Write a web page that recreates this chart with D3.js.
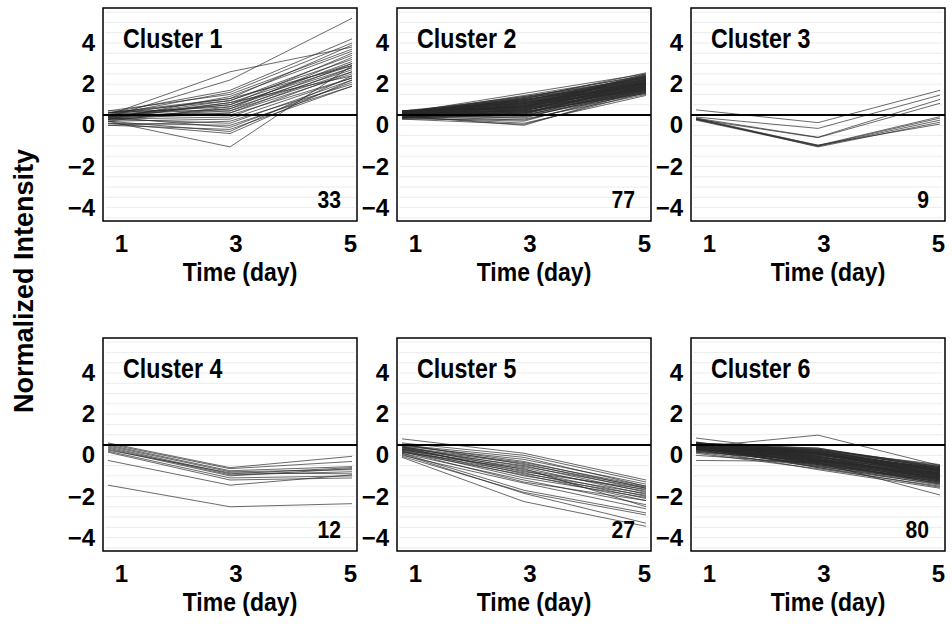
<!DOCTYPE html>
<html>
<head>
<meta charset="utf-8">
<script src="https://cdn.jsdelivr.net/npm/d3@7"></script>
<style>
  body { margin: 0; background: #fff; }
  text { font-family: 'Liberation Sans', Arial, sans-serif; font-weight: bold; fill: #000; }
</style>
</head>
<body>
<div id="chart"></div>
<script>
// time points (day)
var days = [1, 3, 5];
var yTicks = [-4, -2, 0, 2, 4];
var clusterNames = ['Cluster 1', 'Cluster 2', 'Cluster 3', 'Cluster 4', 'Cluster 5', 'Cluster 6'];
var clusterCounts = [33, 77, 9, 12, 27, 80];
var refLevel = 0.5;

// normalized intensity per gene: [day1, day3, day5]
var cluster1 = [
  [0.4, 2.2, 5.2], [0.5, 2.6, 3.8], [0.6, 1.7, 4.2], [0.5, 1.6, 4.0],
  [0.3, 1.4, 3.6], [0.5, 1.3, 3.9], [0.4, 1.2, 3.4], [0.6, 1.2, 3.2], [0.3, 1.1, 3.0],
  [0.5, 1.0, 3.5], [0.4, 1.0, 2.9], [0.2, 0.9, 3.1], [0.6, 0.9, 2.8], [0.5, 0.8, 2.7],
  [0.3, 0.8, 3.3], [0.4, 0.7, 2.6], [0.7, 0.7, 3.0], [0.5, 0.6, 2.5], [0.3, 0.6, 2.8],
  [0.4, 1.1, 2.4], [0.6, 1.3, 2.9],
  [0.2, 0.3, 2.3], [0.0, 0.2, 2.0], [0.3, 0.1, 2.2], [0.1, 0.0, 1.9], [0.4, -0.1, 2.1],
  [0.0, -0.2, 1.9], [0.2, -0.3, 2.4], [0.3, 0.4, 2.6], [0.1, -0.4, 2.2],
  [0.2, -1.05, 2.9], [0.7, 1.5, 3.7], [0.4, 0.5, 2.3]
];
var cluster2 = [
  [0.60, 1.55, 2.50], [0.55, 1.45, 2.40], [0.65, 1.40, 2.30], [0.50, 1.35, 2.45], [0.70, 1.30, 2.20],
  [0.45, 1.30, 2.35], [0.55, 1.25, 2.15], [0.60, 1.20, 2.40], [0.40, 1.20, 2.10], [0.65, 1.15, 2.25],
  [0.50, 1.15, 2.05], [0.55, 1.10, 2.30], [0.45, 1.10, 2.00], [0.70, 1.05, 2.20], [0.35, 1.05, 1.95],
  [0.60, 1.00, 2.10], [0.50, 1.00, 2.35], [0.40, 0.95, 1.90], [0.65, 0.95, 2.05], [0.55, 0.90, 2.20],
  [0.45, 0.90, 1.85], [0.60, 0.85, 2.00], [0.50, 0.85, 2.15], [0.35, 0.80, 1.80], [0.70, 0.80, 1.95],
  [0.55, 0.75, 2.10], [0.45, 0.75, 1.75], [0.60, 0.70, 1.90], [0.50, 0.70, 2.05], [0.40, 0.65, 1.70],
  [0.65, 0.65, 1.85], [0.55, 0.60, 2.00], [0.45, 0.60, 1.65], [0.60, 0.55, 1.80], [0.50, 0.55, 1.95],
  [0.35, 0.50, 1.60], [0.55, 0.50, 1.75], [0.45, 0.45, 1.90], [0.60, 0.45, 1.55], [0.40, 0.40, 1.70],
  [0.50, 0.35, 1.85], [0.30, 0.30, 1.50], [0.45, 0.25, 1.65], [0.35, 0.20, 1.80], [0.40, 0.10, 1.45],
  [0.30, 0.05, 1.60], [0.45, 0.00, 1.75], [0.60, 1.35, 2.05], [0.50, 1.25, 1.95], [0.65, 1.20, 2.35],
  [0.55, 1.10, 1.85], [0.45, 1.05, 2.25], [0.60, 0.95, 1.80], [0.50, 0.90, 2.45], [0.70, 0.85, 1.70],
  [0.40, 0.80, 2.30], [0.55, 0.75, 1.65], [0.65, 0.70, 2.15], [0.45, 0.65, 1.55], [0.60, 1.05, 1.75],
  [0.50, 0.95, 2.50], [0.55, 1.15, 1.90], [0.40, 0.85, 2.40], [0.65, 1.25, 2.10], [0.45, 0.70, 2.25],
  [0.50, 1.00, 1.70], [0.60, 0.80, 2.05], [0.35, 0.60, 1.90], [0.55, 1.30, 2.55], [0.70, 1.10, 2.00],
  [0.45, 0.95, 2.15], [0.50, 0.75, 1.85], [0.60, 0.90, 1.95], [0.40, 0.55, 2.10], [0.55, 1.40, 2.20],
  [0.50, 0.65, 1.60], [0.65, 1.20, 2.30]
];
var cluster3 = [
  [0.75, 0.13, 1.70], [0.40, -0.15, 1.47], [0.35, -0.58, 1.26], [0.30, -0.60, 1.07],
  [0.35, -0.98, 0.42], [0.30, -1.00, 0.35], [0.25, -1.02, 0.25], [0.32, -1.05, 0.15], [0.28, -0.96, 0.06]
];
var cluster4 = [
  [0.60, -0.60, -0.05], [0.55, -0.65, -0.30], [0.50, -0.75, -0.55], [0.45, -0.80, -0.70],
  [0.40, -0.90, -0.60], [0.35, -0.95, -0.80], [0.30, -1.00, -0.65], [0.25, -0.85, -0.90],
  [0.20, -1.10, -1.00], [0.15, -1.20, -1.10], [-0.25, -1.45, -0.95], [-1.45, -2.50, -2.35]
];
var cluster5 = [
  [0.80, 0.10, -1.20], [0.60, 0.00, -1.30], [0.50, -0.10, -1.50], [0.45, -0.20, -1.40], [0.50, -0.30, -1.60],
  [0.40, -0.35, -1.50], [0.35, -0.40, -1.70], [0.55, -0.45, -1.55], [0.30, -0.50, -1.80], [0.40, -0.55, -1.60],
  [0.25, -0.60, -1.90], [0.45, -0.70, -1.75], [0.30, -0.75, -2.00], [0.35, -0.80, -1.65], [0.20, -0.85, -2.10],
  [0.40, -0.90, -1.85], [0.15, -0.95, -2.20], [0.30, -1.00, -1.95], [0.25, -1.10, -2.05], [0.10, -1.20, -2.40],
  [0.20, -1.30, -2.20], [0.00, -1.35, -2.60], [0.10, -1.70, -2.80], [-0.05, -1.80, -2.90], [0.05, -1.85, -3.30],
  [-0.10, -2.25, -3.45], [0.15, -0.65, -2.50]
];
var cluster6 = [
  [0.84, 0.10, -0.90], [0.40, 0.98, -0.50], [0.35, -0.35, -1.93], [-0.25, -0.30, -1.10],
  [0.60, 0.30, -0.50], [0.55, 0.25, -0.60], [0.50, 0.35, -0.55], [0.45, 0.20, -0.70], [0.60, 0.15, -0.65],
  [0.40, 0.25, -0.80], [0.55, 0.10, -0.75], [0.50, 0.05, -0.60], [0.35, 0.15, -0.85], [0.60, 0.00, -0.70],
  [0.45, 0.05, -0.90], [0.50, -0.05, -0.80], [0.30, 0.10, -0.95], [0.55, -0.10, -0.75], [0.40, -0.05, -1.00],
  [0.65, -0.15, -0.85], [0.45, -0.15, -1.05], [0.35, -0.20, -0.90], [0.55, -0.20, -1.10], [0.25, -0.25, -0.95],
  [0.50, -0.25, -1.15], [0.40, -0.30, -1.00], [0.60, -0.30, -1.20], [0.30, -0.35, -1.05], [0.45, -0.40, -1.25],
  [0.20, -0.40, -1.10], [0.50, -0.45, -1.30], [0.35, -0.50, -1.15], [0.15, -0.55, -1.35], [0.40, -0.60, -1.40],
  [0.10, -0.65, -1.50], [0.30, -0.70, -1.60],
  [0.55, 0.20, -0.55], [0.50, 0.10, -0.65], [0.45, 0.00, -0.75], [0.60, -0.05, -0.95], [0.40, 0.15, -0.70],
  [0.50, -0.10, -0.85], [0.35, 0.05, -0.80], [0.55, -0.20, -1.00], [0.45, -0.25, -0.90], [0.30, -0.15, -1.10],
  [0.60, 0.25, -0.45], [0.40, -0.35, -1.20], [0.50, 0.30, -0.60], [0.25, -0.10, -0.85], [0.45, 0.10, -1.00],
  [0.55, 0.05, -0.70], [0.35, -0.30, -0.95], [0.50, -0.40, -1.10], [0.40, 0.20, -0.65], [0.60, -0.25, -1.25],
  [0.30, 0.00, -0.75], [0.45, -0.45, -1.35], [0.55, 0.15, -0.80], [0.20, -0.20, -1.05], [0.50, -0.05, -1.15],
  [0.40, 0.30, -0.55], [0.35, -0.50, -1.45], [0.60, 0.05, -0.90], [0.45, -0.35, -1.30], [0.30, 0.20, -0.70],
  [0.55, -0.15, -0.95], [0.40, -0.55, -1.25], [0.50, 0.25, -0.75], [0.25, -0.45, -1.20], [0.45, -0.10, -0.60],
  [0.35, 0.10, -0.90], [0.50, -0.30, -1.40], [0.15, -0.25, -1.00], [0.60, 0.35, -0.65], [0.40, -0.20, -1.15],
  [0.00, -0.40, -1.30], [0.55, -0.60, -1.55], [0.50, 0.15, -1.05], [0.35, -0.05, -1.20]
];
var clusters = [cluster1, cluster2, cluster3, cluster4, cluster5, cluster6];

var W = 952, H = 628;
var panelW = 254, panelH = 213;
var colX = [103, 397, 691], rowY = [8, 338];
var squeeze = 0.88;

var svg = d3.select('#chart').append('svg')
  .attr('width', W)
  .attr('height', H);

var x = d3.scaleLinear().domain([1, 5]).range([5, 249]);
var xLab = d3.scaleLinear().domain([1, 5]).range([18, 247]);
var y = d3.scaleLinear().domain([-4.65, 5.7]).range([panelH, 0]);
var gridVals = d3.range(-4.5, 5.6, 0.5);

var line = d3.line()
  .x(function (d, i) { return x(days[i]); })
  .y(function (d) { return y(d); });

clusters.forEach(function (genes, k) {
  var g = svg.append('g')
    .attr('transform', 'translate(' + colX[k % 3] + ',' + rowY[Math.floor(k / 3)] + ')');

  // faint background grid
  g.selectAll('line.grid')
    .data(gridVals)
    .enter().append('line')
    .attr('class', 'grid')
    .attr('x1', 2).attr('x2', panelW - 2)
    .attr('y1', function (d) { return y(d); })
    .attr('y2', function (d) { return y(d); })
    .attr('stroke', '#ececec')
    .attr('stroke-width', 1);

  g.selectAll('path.gene')
    .data(genes)
    .enter().append('path')
    .attr('class', 'gene')
    .attr('d', line)
    .attr('fill', 'none')
    .attr('stroke', '#2a2a2a')
    .attr('stroke-width', 0.7);

  g.append('line')
    .attr('x1', 0).attr('x2', panelW)
    .attr('y1', y(refLevel)).attr('y2', y(refLevel))
    .attr('stroke', '#000')
    .attr('stroke-width', 2);

  g.append('rect')
    .attr('width', panelW).attr('height', panelH)
    .attr('fill', 'none')
    .attr('stroke', '#000')
    .attr('stroke-width', 1.5);

  var yAxis = g.append('g')
    .call(d3.axisLeft(y).tickValues(yTicks).tickSize(0).tickPadding(8)
      .tickFormat(function (d) { return d < 0 ? '\u2212' + Math.abs(d) : d; }));
  yAxis.select('.domain').remove();
  yAxis.selectAll('text').style('font-size', '24px').style('font-family', null);

  var xAxis = g.append('g')
    .attr('transform', 'translate(0,' + panelH + ')')
    .call(d3.axisBottom(xLab).tickValues(days).tickSize(0).tickPadding(14)
      .tickFormat(d3.format('d')));
  xAxis.select('.domain').remove();
  xAxis.selectAll('text').style('font-size', '24px').style('font-family', null);

  g.append('text')
    .attr('transform', 'translate(20,40) scale(' + (squeeze - 0.02) + ',1)')
    .style('font-size', '27px')
    .text(clusterNames[k]);

  g.append('text')
    .attr('transform', 'translate(' + (panelW - 16) + ',200) scale(' + squeeze + ',1)')
    .attr('text-anchor', 'end')
    .style('font-size', '24px')
    .text(clusterCounts[k]);

  g.append('text')
    .attr('transform', 'translate(137,' + (panelH + 60) + ') scale(' + (squeeze + 0.04) + ',1)')
    .attr('text-anchor', 'middle')
    .style('font-size', '25px')
    .text('Time (day)');
});

svg.append('text')
  .attr('transform', 'translate(33,281) rotate(-90)')
  .attr('text-anchor', 'middle')
  .style('font-size', '27px')
  .text('Normalized Intensity');
</script>
</body>
</html>
